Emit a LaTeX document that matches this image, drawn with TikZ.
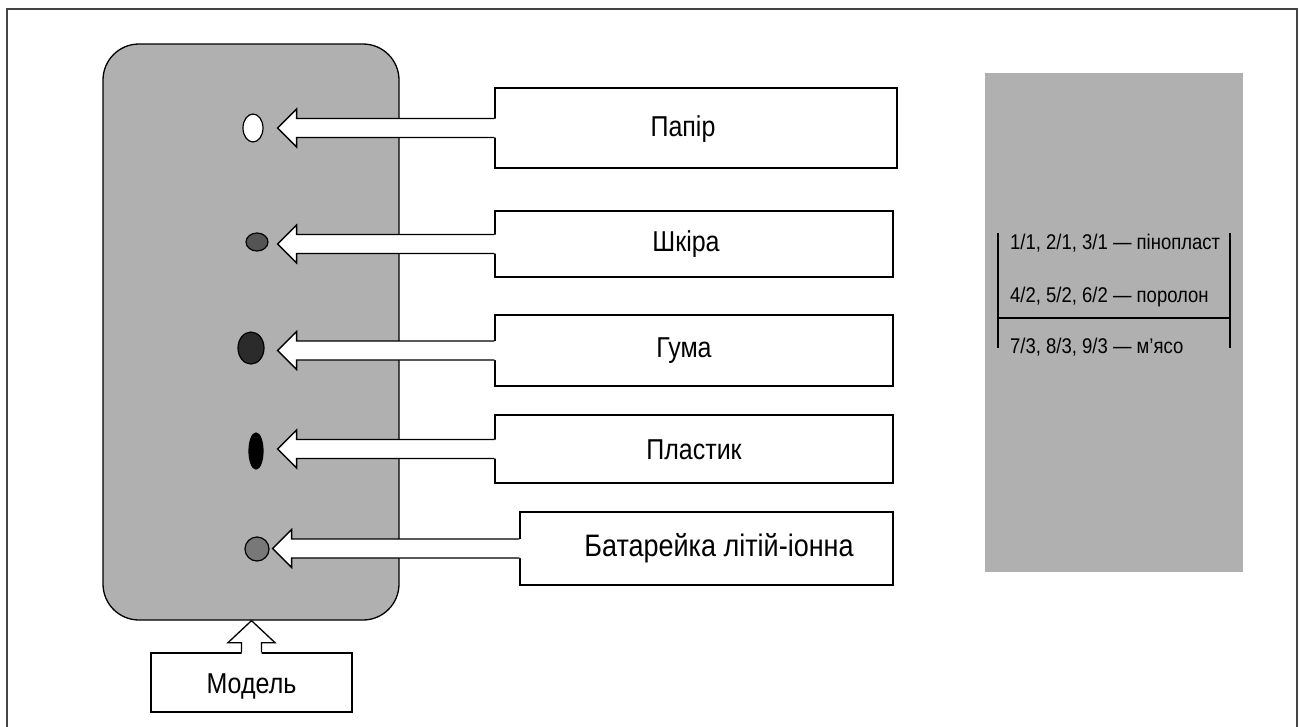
\documentclass[tikz,border=0pt]{standalone}
\usepackage{fontspec}
\usepackage{graphicx}
\setmainfont{Liberation Sans}
\usetikzlibrary{shapes.geometric,calc}
\definecolor{panelgray}{HTML}{B0B0B0}
\definecolor{framegray}{HTML}{444444}
\newcommand{\tallt}[1]{\scalebox{1}[1.15]{#1}}
\tikzset{
  lbox/.style={draw=black, line width=1.3pt, fill=white, inner sep=0pt},
  lbl/.style={font=\fontsize{25}{29}\selectfont, inner sep=0pt},
  legtxt/.style={font=\fontsize{18.5}{22}\selectfont, inner sep=0pt, anchor=west},
  dot/.style={ellipse, draw=black, line width=1.2pt, inner sep=0pt},
  arrowline/.style={draw=black, line width=1.3pt, line join=miter},
}
% #1 label box, #2 target ellipse, #3 gap between ellipse and tip
\newcommand{\blkarrow}[3]{%
  \fill[white] let \p1=(#1.west), \p2=(#2.east) in
    (\x1+1.5pt,\y1+9.5pt) -- (\x2+#3pt+19pt,\y1+9.5pt) -- (\x2+#3pt+19pt,\y1+19pt)
    -- (\x2+#3pt,\y1) -- (\x2+#3pt+19pt,\y1-19pt) -- (\x2+#3pt+19pt,\y1-9.5pt)
    -- (\x1+1.5pt,\y1-9.5pt) -- cycle;
  \draw[arrowline] let \p1=(#1.west), \p2=(#2.east) in
    (\x1,\y1+9.5pt) -- (\x2+#3pt+19pt,\y1+9.5pt) -- (\x2+#3pt+19pt,\y1+19pt)
    -- (\x2+#3pt,\y1) -- (\x2+#3pt+19pt,\y1-19pt) -- (\x2+#3pt+19pt,\y1-9.5pt)
    -- (\x1,\y1-9.5pt);
}
\begin{document}
\begin{tikzpicture}[x=1pt,y=-1pt]
\useasboundingbox (0,0) rectangle (1299,726);
% outer frame
\draw[framegray, line width=1.5pt] (7,730) -- (7,9) -- (1297,9) -- (1297,730);

% main rounded panel
\node[draw=black, line width=1.3pt, fill=panelgray, rounded corners=36pt,
      minimum width=296pt, minimum height=576pt, inner sep=0pt] (panel) at (251,332) {};

% dots
\node[dot, fill=white, minimum width=20pt, minimum height=28pt] (e1) at (253,128) {};
\node[dot, fill=black!67, minimum width=22pt, minimum height=18pt] (e2) at (257,242) {};
\node[dot, fill=black!83, minimum width=26pt, minimum height=32pt] (e3) at (251,348) {};
\node[dot, fill=black, minimum width=14pt, minimum height=36pt] (e4) at (256,451) {};
\node[dot, fill=black!53, minimum width=24pt, minimum height=24pt] (e5) at (257,549) {};

% label boxes
\node[lbox, minimum width=402pt, minimum height=80pt] (b1) at (696,128) {};
\node[lbox, minimum width=398pt, minimum height=66pt] (b2) at (694,244) {};
\node[lbox, minimum width=398pt, minimum height=71pt] (b3) at (694,350.5) {};
\node[lbox, minimum width=398pt, minimum height=68pt] (b4) at (694,449) {};
\node[lbox, minimum width=373pt, minimum height=73pt] (b5) at (706.5,548.5) {};

\node[lbl] (t1) at (683,129) {\tallt{Папір}};
\node[lbl] (t2) at (686,244) {\tallt{Шкіра}};
\node[lbl] (t3) at (684,351) {\tallt{Гума}};
\node[lbl] (t4) at (694,450) {\tallt{Пластик}};
\node[lbl, font=\fontsize{27}{31}\selectfont] (t5) at (719,548) {\tallt{Батарейка літій-іонна}};

% block arrows
\blkarrow{b1}{e1}{14}
\blkarrow{b2}{e2}{9}
\blkarrow{b3}{e3}{13}
\blkarrow{b4}{e4}{14}
\blkarrow{b5}{e5}{3}

% model box and up arrow
\node[lbox, minimum width=201pt, minimum height=59pt] (model) at (251.5,682.5) {};
\node[lbl] (tm) at (251.5,686) {\tallt{Модель}};
\fill[white] let \p1=(model.north), \p2=(panel.south) in
  (\x1-10pt,\y1-1.5pt) -- (\x1-10pt,\y2-22pt) -- (\x1-23.5pt,\y2-22pt) -- (\x1,\y2)
  -- (\x1+23.5pt,\y2-22pt) -- (\x1+10pt,\y2-22pt) -- (\x1+10pt,\y1-1.5pt) -- cycle;
\draw[arrowline] let \p1=(model.north), \p2=(panel.south) in
  (\x1-10pt,\y1) -- (\x1-10pt,\y2-22pt) -- (\x1-23.5pt,\y2-22pt) -- (\x1,\y2)
  -- (\x1+23.5pt,\y2-22pt) -- (\x1+10pt,\y2-22pt) -- (\x1+10pt,\y1);

% legend panel
\node[fill=panelgray, minimum width=258pt, minimum height=499pt, inner sep=0pt] (legend) at (1114,322.5) {};
\coordinate (lt) at (998,233);
\coordinate (lb) at (998,348);
\coordinate (rt) at (1230,233);
\coordinate (rb) at (1230,348);
\coordinate (hl) at (998,318);
\coordinate (hr) at (1230,318);
\draw[line width=2pt] (lt) -- (lb);
\draw[line width=2pt] (rt) -- (rb);
\draw[line width=2pt] (hl) -- (hr);
\node[legtxt] (l1) at (1010,243) {\tallt{1/1, 2/1, 3/1 — пінопласт}};
\node[legtxt] (l2) at (1010,297) {\tallt{4/2, 5/2, 6/2 — поролон}};
\node[legtxt] (l3) at (1010,347) {\tallt{7/3, 8/3, 9/3 — м’ясо}};
\end{tikzpicture}
\end{document}
